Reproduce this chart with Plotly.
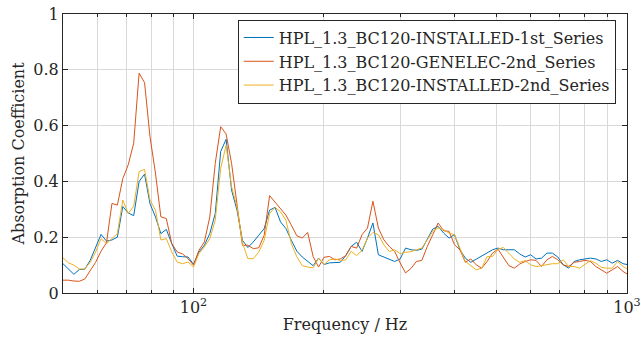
import plotly.graph_objects as go

# 1/24-octave band grid from 50 Hz
freq = [50 * 2 ** (k / 24) for k in range(105)]

installed_1st = [
    0.105, 0.084, 0.067, 0.084, 0.085, 0.117, 0.165, 0.21, 0.186, 0.19, 0.2, 0.31, 0.287, 0.277, 0.4, 0.426, 0.32, 0.273, 0.213, 0.228, 0.177, 0.132, 0.13,
    0.129, 0.103, 0.147, 0.171, 0.213, 0.285, 0.507, 0.551, 0.369, 0.297, 0.189, 0.163, 0.183, 0.207, 0.231, 0.297, 0.307, 0.255, 0.231, 0.189, 0.15,
    0.129, 0.113, 0.098, 0.125, 0.102, 0.108, 0.11, 0.11, 0.134, 0.167, 0.182, 0.149, 0.197, 0.251, 0.137, 0.129, 0.119, 0.113, 0.122, 0.161, 0.155,
    0.153, 0.157, 0.193, 0.229, 0.239, 0.215, 0.197, 0.209, 0.155, 0.125, 0.11, 0.122, 0.134, 0.146, 0.155, 0.161, 0.155, 0.155, 0.155, 0.14,
    0.129, 0.137, 0.122, 0.125, 0.143, 0.143, 0.129, 0.101, 0.089, 0.113, 0.119, 0.122, 0.125, 0.122, 0.113, 0.119, 0.107, 0.117, 0.105, 0.101,
]

genelec_2nd = [
    0.046, 0.046, 0.043, 0.042, 0.05, 0.08, 0.11, 0.15, 0.18, 0.321, 0.315, 0.41, 0.46, 0.537, 0.788, 0.754, 0.56, 0.43, 0.273, 0.267, 0.177, 0.147, 0.14,
    0.123, 0.1, 0.153, 0.183, 0.273, 0.465, 0.596, 0.57, 0.465, 0.309, 0.171, 0.171, 0.159, 0.162, 0.207, 0.349, 0.327, 0.303, 0.279, 0.243, 0.205,
    0.197, 0.217, 0.131, 0.093, 0.128, 0.131, 0.119, 0.122, 0.134, 0.167, 0.161, 0.209, 0.233, 0.329, 0.233, 0.191, 0.167, 0.149, 0.108, 0.072, 0.088,
    0.113, 0.117, 0.167, 0.209, 0.251, 0.223, 0.221, 0.173, 0.155, 0.11, 0.122, 0.101, 0.089, 0.113, 0.143, 0.157, 0.125, 0.098, 0.089, 0.104,
    0.113, 0.119, 0.117, 0.095, 0.119, 0.131, 0.119, 0.101, 0.095, 0.11, 0.113, 0.117, 0.113, 0.095, 0.083, 0.071, 0.083, 0.095, 0.077, 0.065,
]

installed_2nd = [
    0.126, 0.108, 0.1, 0.086, 0.086, 0.11, 0.147, 0.195, 0.177, 0.195, 0.213, 0.333, 0.285, 0.311, 0.435, 0.443, 0.333, 0.297, 0.19, 0.195, 0.147, 0.111, 0.105,
    0.111, 0.093, 0.141, 0.165, 0.195, 0.261, 0.447, 0.53, 0.381, 0.309, 0.18, 0.123, 0.123, 0.147, 0.189, 0.285, 0.307, 0.291, 0.261, 0.177, 0.13,
    0.098, 0.093, 0.09, 0.125, 0.102, 0.119, 0.122, 0.117, 0.119, 0.149, 0.134, 0.153, 0.197, 0.217, 0.209, 0.173, 0.149, 0.155, 0.141, 0.146, 0.148,
    0.155, 0.161, 0.191, 0.221, 0.233, 0.227, 0.215, 0.209, 0.161, 0.113, 0.098, 0.083, 0.089, 0.131, 0.131, 0.157, 0.163, 0.143, 0.122, 0.11,
    0.116, 0.101, 0.095, 0.098, 0.101, 0.105, 0.105, 0.119, 0.095, 0.095, 0.089, 0.101, 0.116, 0.107, 0.092, 0.089, 0.089, 0.113, 0.095, 0.083,
]

series_names = [
    "HPL_1.3_BC120-INSTALLED-1st_Series",
    "HPL_1.3_BC120-GENELEC-2nd_Series",
    "HPL_1.3_BC120-INSTALLED-2nd_Series",
]
series_values = [installed_1st, genelec_2nd, installed_2nd]
colors = ["#0072BD", "#D95319", "#EDB120"]

x_major = [100, 1000]
x_major_text = ["10<sup>2</sup>", "10<sup>3</sup>"]
x_minor = [60, 70, 80, 90, 200, 300, 400, 500, 600, 700, 800, 900]
y_ticks = [0, 0.2, 0.4, 0.6, 0.8, 1]
y_text = ["0", "0.2", "0.4", "0.6", "0.8", "1"]

FONT = "DejaVu Serif"
AX = "#262626"
GRID = "#d9d9d9"

fig = go.Figure()
for name, vals, c in zip(series_names, series_values, colors):
    fig.add_trace(go.Scatter(x=freq[:len(vals)], y=vals, mode="lines", name=name,
                             line=dict(color=c, width=1)))

fig.update_layout(
    width=641, height=338,
    margin=dict(l=63, r=14, t=14, b=45),
    paper_bgcolor="white", plot_bgcolor="white",
    font=dict(family=FONT, color=AX, size=16),
    showlegend=True,
    legend=dict(x=0.98, y=0.98, xanchor="right", yanchor="top",
                bgcolor="white", bordercolor=AX, borderwidth=1,
                font=dict(family=FONT, size=16, color=AX),
                itemwidth=30, tracegroupgap=0),
    xaxis=dict(type="log", range=[1.69897, 3], automargin=False,
               tickmode="array", tickvals=x_major, ticktext=x_major_text,
               ticks="inside", ticklen=5, tickcolor=AX,
               showline=True, linecolor=AX, linewidth=1, mirror="allticks",
               showgrid=True, gridcolor=GRID, gridwidth=1,
               minor=dict(tickvals=x_minor, ticks="inside", ticklen=3, tickcolor=AX,
                          showgrid=True, gridcolor=GRID, gridwidth=1),
               zeroline=False,
               title=dict(text="Frequency / Hz", font=dict(family=FONT, size=16), standoff=2),
               tickfont=dict(family=FONT, size=16)),
    yaxis=dict(range=[0, 1], automargin=False, tickmode="array", tickvals=y_ticks, ticktext=y_text,
               ticks="inside", ticklen=5, tickcolor=AX,
               showline=True, linecolor=AX, linewidth=1, mirror="allticks",
               showgrid=True, gridcolor=GRID, gridwidth=1, zeroline=False,
               title=dict(text="Absorption Coefficient", font=dict(family=FONT, size=16), standoff=4),
               tickfont=dict(family=FONT, size=16)),
)

fig.write_html("out.html")
